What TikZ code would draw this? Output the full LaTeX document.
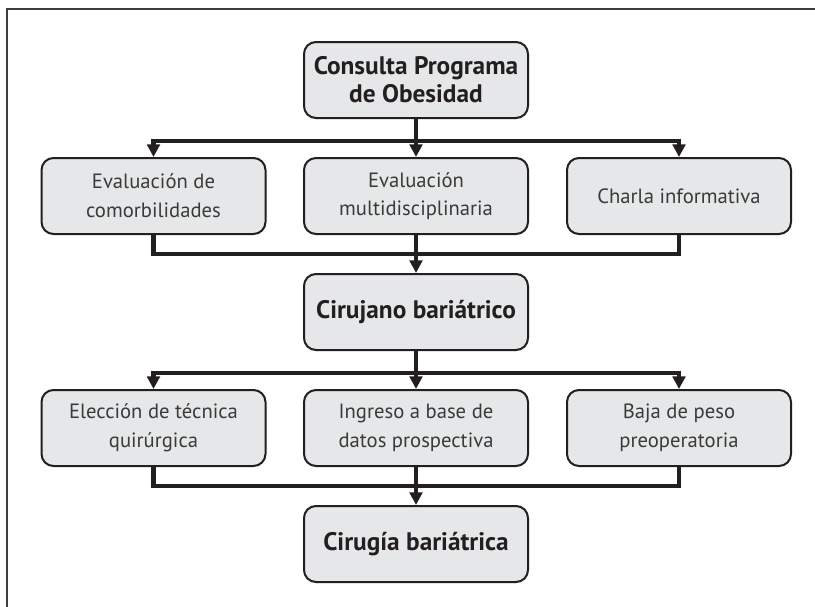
\documentclass[tikz,border=0pt]{standalone}
\usepackage{fontspec}
\setmainfont{PT Sans}
\usetikzlibrary{arrows.meta}
\definecolor{boxfill}{HTML}{E6E7E8}
\definecolor{ink}{HTML}{231F20}
\definecolor{txt}{HTML}{3A3A3A}
\definecolor{framec}{HTML}{3C3C3C}
\tikzset{
  mainbox/.style={draw=ink, line width=1.5pt, fill=boxfill, rounded corners=9pt,
    minimum width=168pt, minimum height=57pt, inner sep=0pt, align=center,
    font=\fontsize{19}{21}\selectfont\bfseries, text=ink},
  subbox/.style={mainbox, font=\fontsize{15.5}{21.5}\selectfont, text=txt},
  conn/.style={draw=ink, line width=3.6pt, line join=miter},
  tip/.style={-{Triangle[width=9.5pt,length=9.5pt]}},
  tips/.style={{Triangle[width=9.5pt,length=9.5pt]}-{Triangle[width=9.5pt,length=9.5pt]}}
}
\begin{document}
\begin{tikzpicture}[x=0.75pt,y=-0.75pt]
\useasboundingbox (0,0) rectangle (815,607);
\draw[framec, line width=1.6pt] (7,607) -- (7,9) -- (815,9);

\node[mainbox] (c1) at (416,80) {Consulta Programa\\de Obesidad};
\node[subbox] (a1) at (153.5,196) {Evaluación de\\comorbilidades};
\node[subbox] (a2) at (416,196) {Evaluación\\multidisciplinaria};
\node[subbox] (a3) at (679,196) {Charla informativa};
\node[mainbox] (c2) at (416,312) {Cirujano bariátrico};
\node[subbox] (b1) at (153.5,428) {Elección de técnica\\quirúrgica};
\node[subbox] (b2) at (416,428) {Ingreso a base de\\datos prospectiva};
\node[subbox] (b3) at (679,428) {Baja de peso\\preoperatoria};
\node[mainbox] (c3) at (416,544) {Cirugía bariátrica};

\coordinate (s1) at (416,141);
\coordinate (j1) at (416,254);
\coordinate (s2) at (416,373);
\coordinate (j2) at (416,486);

% split 1
\draw[conn,tips] (a1.north) -- (a1.north |- s1) -- (a3.north |- s1) -- (a3.north);
\draw[conn,tip] (c1.south) -- (a2.north);
% join 1
\draw[conn] (a1.south) -- (a1.south |- j1) -- (a3.south |- j1) -- (a3.south);
\draw[conn,tip] (a2.south) -- (c2.north);
% split 2
\draw[conn,tips] (b1.north) -- (b1.north |- s2) -- (b3.north |- s2) -- (b3.north);
\draw[conn,tip] (c2.south) -- (b2.north);
% join 2
\draw[conn] (b1.south) -- (b1.south |- j2) -- (b3.south |- j2) -- (b3.south);
\draw[conn,tip] (b2.south) -- (c3.north);
\end{tikzpicture}
\end{document}
